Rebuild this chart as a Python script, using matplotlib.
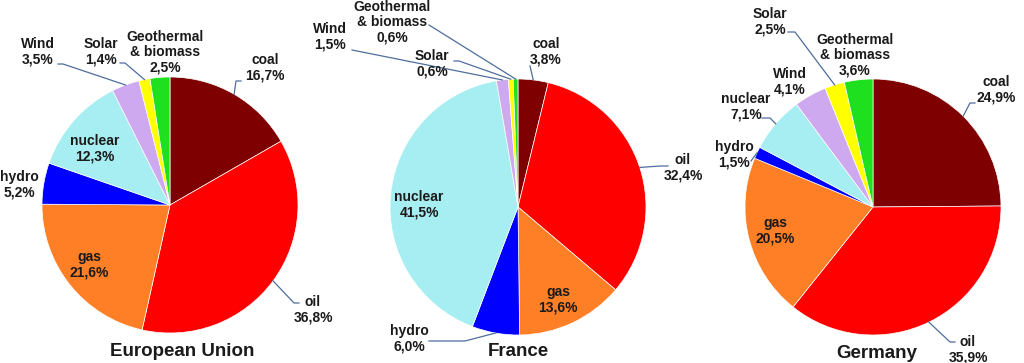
import numpy as np
import matplotlib
matplotlib.use("Agg")
import matplotlib.pyplot as plt

plt.rcParams['font.family'] = ['Liberation Sans', 'DejaVu Sans']

# energy mix, percent
sources = ["coal", "oil", "gas", "hydro", "nuclear", "Wind", "Solar", "Geothermal\n& biomass"]
eu = [16.7, 36.8, 21.6, 5.2, 12.3, 3.5, 1.4, 2.5]
france = [3.8, 32.4, 13.6, 6.0, 41.5, 1.5, 0.6, 0.6]
germany = [24.9, 35.9, 20.5, 1.5, 7.1, 4.1, 2.5, 3.6]
titles = ["European Union", "France", "Germany"]

colors = ['#7f0000', '#ff0000', '#ff7f27', '#0000ff', '#a6eef2',
          '#cfa9f0', '#ffff00', '#1ee01e']

R = 128
centers = [(170, 205), (518, 207), (873, 207)]
title_pos = [(182, 352), (518, 352), (877, 353)]

# label layout: index -> (text x, text y, leader start, leader elbow)
layouts = [
    {0: (265, 68, (241, 81), (236, 81)),
     1: (313, 310, (299, 303), (294, 303)),
     2: (89, 265, None, None),
     3: (19, 185, None, None),
     4: (95, 149, None, None),
     5: (38, 52, (58, 64), (63, 64)),
     6: (101, 52, (120, 63), (125, 63)),
     7: (165, 52, None, None)},
    {0: (546, 52, (530, 66), (530, 66)),
     1: (683, 168, (668, 166), (660, 166)),
     2: (558, 300, None, None),
     3: (409, 339, (429, 341), (465, 341)),
     4: (419, 205, None, None),
     5: (330, 37, (352, 50), (352, 50)),
     6: (432, 64, (454, 61), (459, 61)),
     7: (392, 22, (429, 25), (429, 25))},
    {0: (996, 90, (975, 103), (970, 103)),
     1: (968, 350, (955, 342), (950, 342)),
     2: (775, 231, None, None),
     3: (734, 155, (751, 161), (751, 161)),
     4: (746, 107, (762, 118), (770, 118)),
     5: (790, 82, None, None),
     6: (770, 22, (788, 32), (795, 32)),
     7: (855, 55, None, None)},
]

fig = plt.figure(figsize=(10.24, 3.63), dpi=100)
ax = fig.add_axes([0, 0, 1, 1])

for vals, (cx, cy), layout, title, tpos in zip([eu, france, germany], centers,
                                                layouts, titles, title_pos):
    # y axis is inverted below, so counterclockwise in data = clockwise on screen
    ax.pie(vals, colors=colors, center=(cx, cy), radius=R, startangle=270,
           counterclock=True, wedgeprops=dict(edgecolor='white', linewidth=0.5))
    frac = np.array(vals) / np.sum(vals)
    mids = np.cumsum(frac) - frac / 2
    for i, name in enumerate(sources):
        tx, ty, start, elbow = layout[i]
        label = name + "\n" + f"{vals[i]:.1f}".replace('.', ',') + "%"
        ax.text(tx, ty, label, ha='center', va='center', fontsize=10,
                fontweight='bold', color='#1a1a1a', linespacing=1.12)
        if start is not None:
            th = np.deg2rad(270 + 360 * mids[i])
            ex, ey = cx + R * np.cos(th), cy + R * np.sin(th)
            ax.plot([start[0], elbow[0], ex], [start[1], elbow[1], ey],
                    color='#4f6e9c', lw=0.9)
    ax.text(tpos[0], tpos[1], title, ha='center', va='center', fontsize=13.5,
            fontweight='bold', color='#1a1a1a')

ax.set_xlim(0, 1024)
ax.set_ylim(363, 0)
ax.set_aspect('equal')
ax.axis('off')

fig.savefig("out.png", dpi=100, facecolor='white')
